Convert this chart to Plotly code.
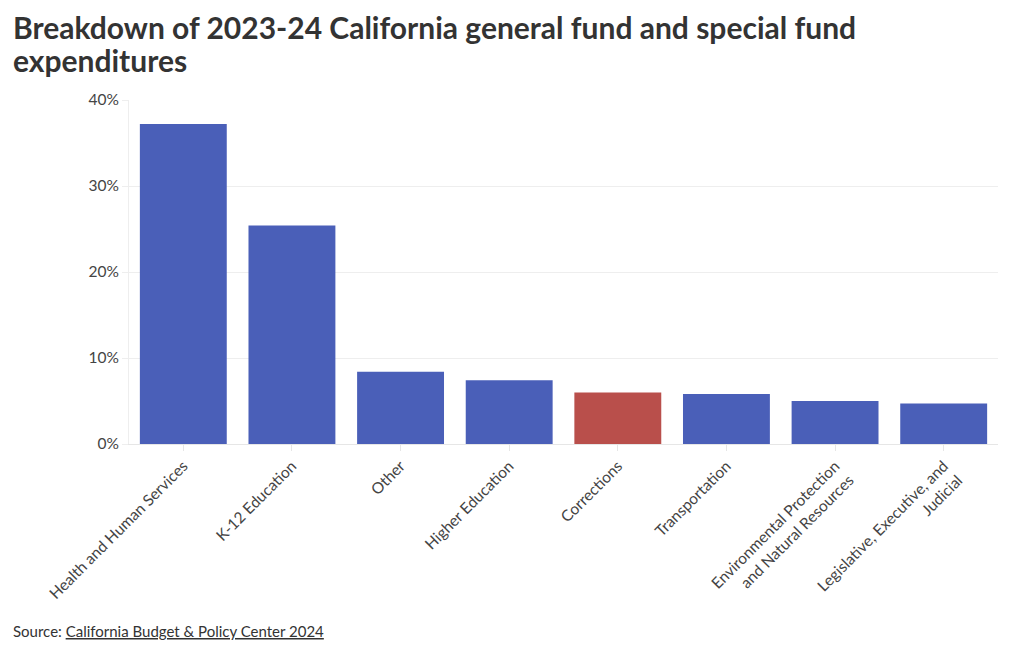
import plotly.graph_objects as go

categories = ["Health and Human Services", "K-12 Education", "Other", "Higher Education",
              "Corrections", "Transportation",
              "Environmental Protection<br>and Natural Resources",
              "Legislative, Executive, and<br>Judicial"]
values = [37.2, 25.4, 8.4, 7.4, 6.0, 5.8, 5.0, 4.7]
highlight = "Corrections"
tick_vals = [0, 10, 20, 30, 40]
tick_text = ["0%", "10%", "20%", "30%", "40%"]
title_lines = ["Breakdown of 2023-24 California general fund and special fund", "expenditures"]

BLUE = "#4a5fb8"
RED = "#b94f4b"
colors = [RED if c == highlight else BLUE for c in categories]

fig = go.Figure(go.Bar(
    x=categories, y=values, marker=dict(color=colors, line=dict(width=0)),
    hovertemplate="%{x}: %{y}%<extra></extra>",
))

font_family = "Lato, 'Noto Sans', sans-serif"
fig.update_layout(
    width=1020, height=650,
    margin=dict(l=121, r=30, t=92, b=214),
    paper_bgcolor="white", plot_bgcolor="white",
    bargap=0.2,
    font=dict(family=font_family, color="#444", size=15.5),
    xaxis=dict(
        tickangle=-45, showgrid=False, showline=True, linecolor="#e6e6e6",
        ticks="outside", tickcolor="#e6e6e6", ticklen=6,
        tickfont=dict(size=15.5, color="#444"),
    ),
    yaxis=dict(
        range=[0, 40], tickvals=tick_vals, ticktext=tick_text,
        showgrid=True, gridcolor="#eeeeee", zeroline=False,
        showline=True, linecolor="#eeeeee",
        ticks="outside", tickcolor="#eeeeee", ticklen=6,
        tickfont=dict(size=15.5, color="#444"),
    ),
    showlegend=False,
)

for line, ypos in zip(title_lines, [1.2108, 1.1163]):
    fig.add_annotation(
        text="<b>" + line + "</b>",
        xref="paper", yref="paper", x=-0.1358, y=ypos, xanchor="left", yanchor="middle",
        showarrow=False, align="left",
        font=dict(size=30, color="#333", family=font_family),
    )

fig.add_annotation(
    text="Source: <u>California Budget & Policy Center 2024</u>",
    xref="paper", yref="paper", x=-0.1358, y=-0.5436, xanchor="left", yanchor="middle",
    showarrow=False, font=dict(size=15, color="#333", family=font_family), align="left",
)

fig.write_html("out.html")
